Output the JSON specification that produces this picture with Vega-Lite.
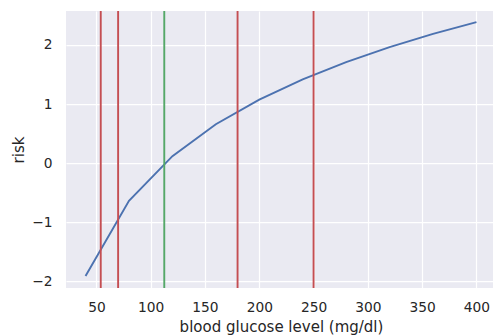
{
  "$schema": "https://vega.github.io/schema/vega-lite/v6.json",
  "width": 430,
  "height": 277,
  "autosize": {"type": "none"},
  "padding": {"left": 66, "top": 11, "right": 0, "bottom": 48},
  "background": "white",
  "config": {
    "view": {"fill": "#EAEAF2", "stroke": null},
    "font": "DejaVu Sans",
    "axis": {
      "domain": false,
      "ticks": false,
      "tickSize": 0,
      "grid": true,
      "gridColor": "white",
      "gridWidth": 1.25,
      "labelFont": "DejaVu Sans",
      "labelFontSize": 13.75,
      "labelColor": "#262626",
      "titleFont": "DejaVu Sans",
      "titleFontSize": 15,
      "titleFontWeight": "normal",
      "titleColor": "#262626"
    }
  },
  "datasets": {
    "curve": [
      {"glucose": 40, "risk": -1.908},
      {"glucose": 80, "risk": -0.634},
      {"glucose": 120, "risk": 0.119},
      {"glucose": 160, "risk": 0.659},
      {"glucose": 200, "risk": 1.077},
      {"glucose": 240, "risk": 1.420},
      {"glucose": 280, "risk": 1.711},
      {"glucose": 320, "risk": 1.964},
      {"glucose": 360, "risk": 2.187},
      {"glucose": 400, "risk": 2.388}
    ],
    "thresholds": [
      {"glucose": 54, "zone": "limit"},
      {"glucose": 70, "zone": "limit"},
      {"glucose": 112.5, "zone": "target"},
      {"glucose": 180, "zone": "limit"},
      {"glucose": 250, "zone": "limit"}
    ]
  },
  "layer": [
    {
      "data": {"name": "curve"},
      "mark": {"type": "line", "color": "#4C72B0", "strokeWidth": 1.9, "clip": true},
      "encoding": {
        "x": {
          "field": "glucose",
          "type": "quantitative",
          "scale": {"domain": [22, 418], "nice": false, "zero": false},
          "axis": {"values": [50, 100, 150, 200, 250, 300, 350, 400], "title": "blood glucose level (mg/dl)", "labelPadding": 12, "titlePadding": 6}
        },
        "y": {
          "field": "risk",
          "type": "quantitative",
          "scale": {"domain": [-2.11, 2.575], "nice": false, "zero": false},
          "axis": {"values": [-2, -1, 0, 1, 2], "title": "risk", "labelPadding": 14, "titlePadding": 5}
        }
      }
    },
    {
      "data": {"name": "thresholds"},
      "mark": {"type": "rule", "strokeWidth": 1.9},
      "encoding": {
        "x": {"field": "glucose", "type": "quantitative"},
        "color": {
          "field": "zone",
          "type": "nominal",
          "scale": {"domain": ["limit", "target"], "range": ["#C44E52", "#55A868"]},
          "legend": null
        }
      }
    }
  ]
}
